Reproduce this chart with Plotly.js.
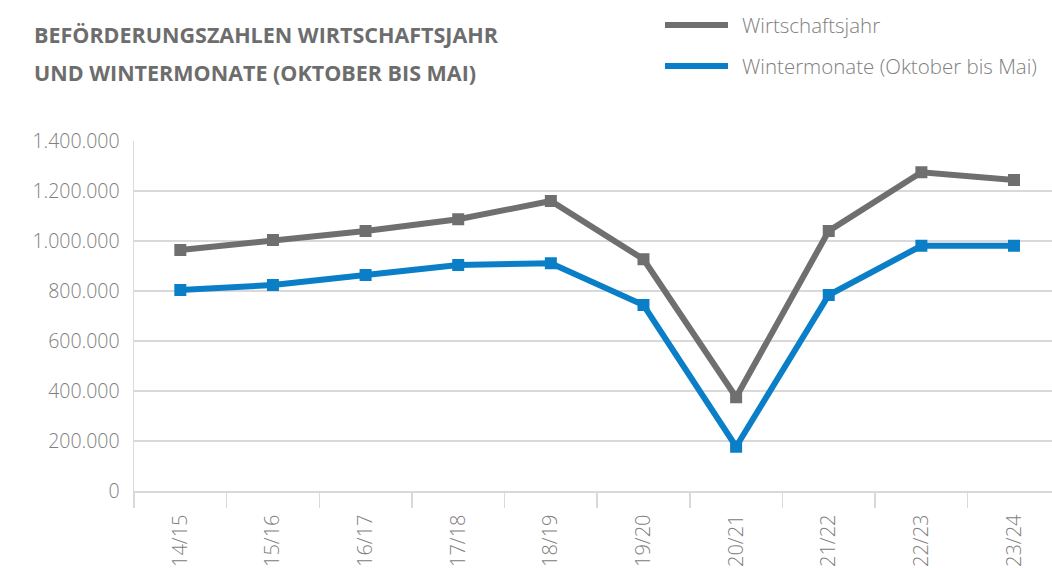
<!DOCTYPE html>
<html>
<head>
<meta charset="utf-8">
<script src="https://cdn.plot.ly/plotly-3.0.1.min.js"></script>
<style>html,body{margin:0;padding:0;background:#fff;}#chart{width:1052px;height:568px;}</style>
</head>
<body>
<div id="chart"></div>
<script>
var categories = ["14/15","15/16","16/17","17/18","18/19","19/20","20/21","21/22","22/23","23/24"];
var wirtschaftsjahr = [964000, 1004000, 1040000, 1087000, 1160000, 927000, 375000, 1040000, 1275000, 1244000];
var wintermonate = [804000, 824000, 864000, 904000, 911000, 744000, 177000, 784000, 981000, 981000];
var seriesNames = ["Wirtschaftsjahr", "Wintermonate (Oktober bis Mai)"];
var titleLines = ["BEFÖRDERUNGSZAHLEN WIRTSCHAFTSJAHR", "UND WINTERMONATE (OKTOBER BIS MAI)"];
var yTicks = [0, 200000, 400000, 600000, 800000, 1000000, 1200000, 1400000];

var GRAY = "#6f6f6f", BLUE = "#0a7fc8", TXT = "#808080", GRID = "#d9d9d9";
var FONT = "Open Sans, sans-serif";

var traces = [
  {x: categories, y: wirtschaftsjahr, name: seriesNames[0], type: "scatter", mode: "lines+markers",
   line: {color: GRAY, width: 6}, marker: {symbol: "square", size: 12, color: GRAY}, showlegend: false},
  {x: categories, y: wintermonate, name: seriesNames[1], type: "scatter", mode: "lines+markers",
   line: {color: BLUE, width: 6}, marker: {symbol: "square", size: 12, color: BLUE}, showlegend: false}
];

// plot area: x 134..1052 px, y 141..491 px
function px2x(p){ return (p - 134) / 918; }
function px2y(p){ return (491 - p) / 350; }
var shapes = [], annotations = [];

// title (two lines)
[{y: 35, text: titleLines[0]}, {y: 73, text: titleLines[1]}].forEach(function(t){
  annotations.push({xref: "paper", yref: "paper", x: px2x(32), y: px2y(t.y), xanchor: "left", yanchor: "middle",
                    showarrow: false, text: "<b>" + t.text + "</b>",
                    font: {family: FONT, size: 21.5, color: "#6d6d6d"}});
});

// custom legend
var legendRows = [{y: 25, color: GRAY, text: seriesNames[0]}, {y: 66, color: BLUE, text: seriesNames[1]}];
legendRows.forEach(function(r){
  shapes.push({type: "line", xref: "paper", yref: "paper", x0: px2x(665), x1: px2x(728), y0: px2y(r.y), y1: px2y(r.y),
               line: {color: r.color, width: 6}});
  annotations.push({xref: "paper", yref: "paper", x: px2x(740), y: px2y(r.y), xanchor: "left", yanchor: "middle",
                    showarrow: false, text: r.text, font: {family: FONT, size: 20.5, color: TXT, weight: 300}});
});

var layout = {
  width: 1052, height: 568,
  margin: {l: 134, r: 0, t: 141, b: 77},
  paper_bgcolor: "#fff", plot_bgcolor: "#fff",
  separators: ",.",
  showlegend: false,
  xaxis: {
    type: "category", range: [-0.5, 9.41], fixedrange: true,
    tickson: "boundaries", ticks: "outside", ticklen: 15, tickcolor: GRID, tickwidth: 1.5,
    showgrid: false, showline: true, linecolor: GRID, linewidth: 1.5,
    tickangle: -90, ticklabelstandoff: 14,
    tickfont: {family: FONT, size: 20, color: TXT, weight: 300}
  },
  yaxis: {
    range: [0, 1400000], tickvals: yTicks, tickformat: ",d",
    showgrid: true, gridcolor: GRID, gridwidth: 1.5,
    zeroline: false, showline: true, linecolor: GRID, linewidth: 1.5,
    ticks: "", ticklabelstandoff: 9,
    tickfont: {family: FONT, size: 19.5, color: TXT, weight: 300}
  },
  shapes: shapes,
  annotations: annotations
};

Plotly.newPlot("chart", traces, layout, {displayModeBar: false, staticPlot: true});
</script>
</body>
</html>
